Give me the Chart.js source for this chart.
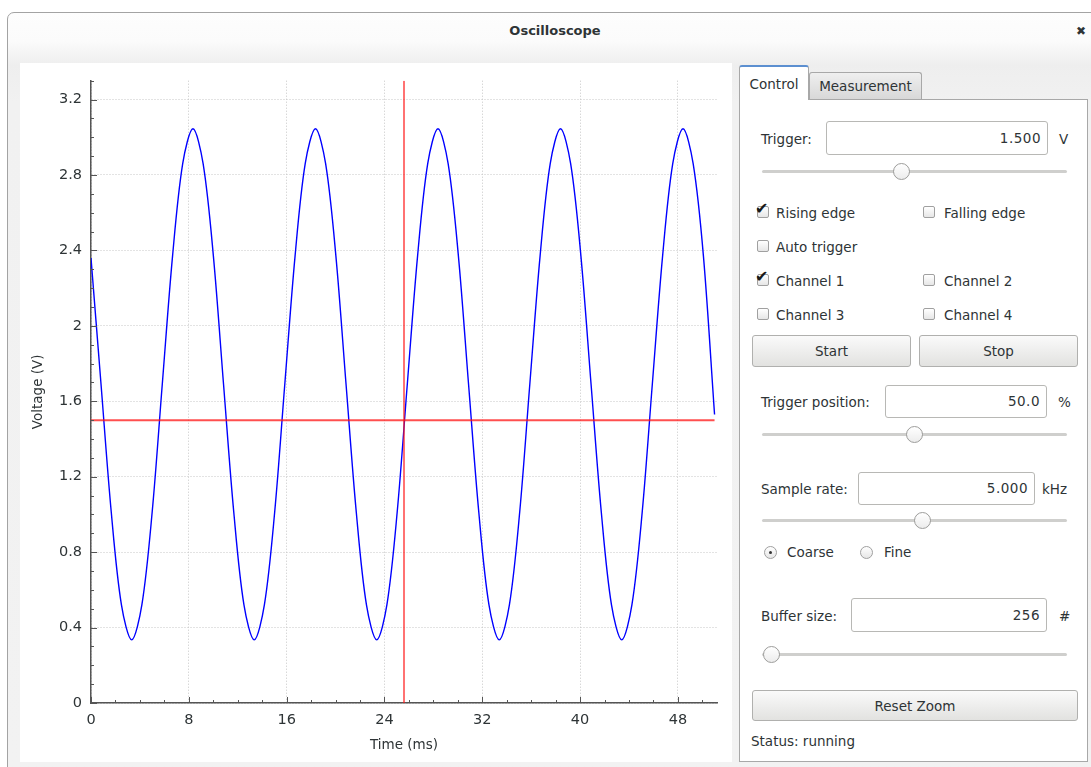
<!DOCTYPE html>
<html>
<head>
<meta charset="utf-8">
<title>Oscilloscope</title>
<script src="https://cdn.jsdelivr.net/npm/chart.js@4"></script>
<style>
  html, body { margin: 0; padding: 0; background: #fff; width: 1091px; height: 767px; overflow: hidden; }
  body { font-family: "DejaVu Sans", sans-serif; font-size: 13.5px; color: #2e3436; position: relative; }
  .win { position: absolute; left: 7px; top: 12px; width: 1100px; height: 770px; border: 1px solid #a3a3a3;
         border-radius: 7px 0 0 0; background: linear-gradient(#fdfdfd 0px, #fbfbfb 28px, #eeeeee 52px, #f1f1f1 90px, #f2f2f2 100%); }
  .ttl { position: absolute; left: 0; width: 1110px; top: 23px; text-align: center; font-weight: bold; font-size: 13px; color: #2e3436; }
  .close { position: absolute; left: 1076px; top: 24px; font-size: 12px; color: #2e3436; }
  .plot { position: absolute; left: 20px; top: 63px; width: 712px; height: 699px; background: #fff; }
  .abs { position: absolute; white-space: nowrap; }
  .tab { position: absolute; box-sizing: border-box; border: 1px solid #a8a8a8; border-bottom: none; border-radius: 3px 3px 0 0; text-align: center; }
  .panel { position: absolute; left: 739px; top: 99px; width: 349px; height: 663px; box-sizing: border-box; border: 1px solid #a8a8a8; background: #fff; }
  .entry { position: absolute; box-sizing: border-box; border: 1px solid #b8b8b5; border-radius: 3px; background: #fff; text-align: right; padding-right: 6px; letter-spacing: 0.5px; }
  .track { position: absolute; height: 3px; background: #cfcfcd; border-radius: 2px; }
  .thumb { position: absolute; width: 17px; height: 17px; box-sizing: border-box; border-radius: 50%; border: 1px solid #9d9d9b; background: linear-gradient(#ffffff, #ececec); }
  .cb { position: absolute; width: 12px; height: 12px; box-sizing: border-box; border: 1px solid #a0a0a0; border-radius: 2px; background: linear-gradient(#ffffff, #e6e6e6); }
  .tick { position: absolute; font-size: 16px; line-height: 16px; color: #1a1a1a; }
  .rb { position: absolute; width: 13px; height: 13px; box-sizing: border-box; border: 1px solid #a0a0a0; border-radius: 50%; background: linear-gradient(#ffffff, #e6e6e6); }
  .dot { position: absolute; left: 4px; top: 4px; width: 3px; height: 3px; border-radius: 50%; background: #333; }
  .btn { position: absolute; box-sizing: border-box; border: 1px solid #b0b0ae; border-radius: 3px; background: linear-gradient(#fafafa, #e2e2e0); text-align: center; }
</style>
</head>
<body>
<div class="win"></div>
<div class="ttl">Oscilloscope</div>
<div class="close">✖</div>

<div class="plot"><canvas id="scope" width="712" height="699"></canvas></div>

<div class="panel"></div>
<div class="tab" style="left:739px;top:65px;width:70px;height:35px;background:#fff;border-top:2px solid #5c8fd0;line-height:34px;">Control</div>
<div class="tab" style="left:809px;top:72px;width:113px;height:27px;background:linear-gradient(#efefef,#d8d8d8);line-height:26px;">Measurement</div>

<div class="abs" style="left:761px;top:131px;">Trigger:</div>
<div class="entry" style="left:826px;top:121px;width:222px;height:34px;line-height:32px;">1.500</div>
<div class="abs" style="left:1059px;top:131px;">V</div>
<div class="track" style="left:762px;top:170px;width:305px;"></div>
<div class="thumb" style="left:893px;top:163px;"></div>

<div class="cb" style="left:757px;top:206px;"></div><div class="tick" style="left:755px;top:201px;">✔</div>
<div class="abs" style="left:776px;top:205px;">Rising edge</div>
<div class="cb" style="left:923px;top:206px;"></div>
<div class="abs" style="left:944px;top:205px;">Falling edge</div>
<div class="cb" style="left:757px;top:240px;"></div>
<div class="abs" style="left:776px;top:239px;">Auto trigger</div>
<div class="cb" style="left:757px;top:274px;"></div><div class="tick" style="left:755px;top:269px;">✔</div>
<div class="abs" style="left:776px;top:273px;">Channel 1</div>
<div class="cb" style="left:923px;top:274px;"></div>
<div class="abs" style="left:944px;top:273px;">Channel 2</div>
<div class="cb" style="left:757px;top:308px;"></div>
<div class="abs" style="left:776px;top:307px;">Channel 3</div>
<div class="cb" style="left:923px;top:308px;"></div>
<div class="abs" style="left:944px;top:307px;">Channel 4</div>

<div class="btn" style="left:752px;top:335px;width:159px;height:32px;line-height:31px;">Start</div>
<div class="btn" style="left:919px;top:335px;width:159px;height:32px;line-height:31px;">Stop</div>

<div class="abs" style="left:761px;top:394px;">Trigger position:</div>
<div class="entry" style="left:885px;top:385px;width:162px;height:33px;line-height:31px;">50.0</div>
<div class="abs" style="left:1058px;top:394px;">%</div>
<div class="track" style="left:762px;top:433px;width:305px;"></div>
<div class="thumb" style="left:906px;top:426px;"></div>

<div class="abs" style="left:761px;top:481px;">Sample rate:</div>
<div class="entry" style="left:858px;top:472px;width:177px;height:33px;line-height:31px;">5.000</div>
<div class="abs" style="left:1042px;top:481px;">kHz</div>
<div class="track" style="left:762px;top:519px;width:305px;"></div>
<div class="thumb" style="left:914px;top:512px;"></div>

<div class="rb" style="left:764px;top:546px;"><div class="dot"></div></div>
<div class="abs" style="left:787px;top:544px;">Coarse</div>
<div class="rb" style="left:860px;top:546px;"></div>
<div class="abs" style="left:884px;top:544px;">Fine</div>

<div class="abs" style="left:761px;top:608px;">Buffer size:</div>
<div class="entry" style="left:851px;top:598px;width:196px;height:34px;line-height:32px;">256</div>
<div class="abs" style="left:1059px;top:608px;">#</div>
<div class="track" style="left:762px;top:653px;width:305px;"></div>
<div class="thumb" style="left:763px;top:646px;"></div>

<div class="btn" style="left:752px;top:690px;width:326px;height:31px;line-height:30px;">Reset Zoom</div>
<div class="abs" style="left:751px;top:733px;">Status: running</div>

<script>
// channel 1 samples (time in ms, voltage in V)
const sampleTimes = [
  0.00, 0.82, 1.66, 2.49, 3.33, 4.16, 5.00, 5.83, 6.67, 7.50, 8.34, 9.17, 10.01,
  10.84, 11.68, 12.51, 13.35, 14.18, 15.02, 15.85, 16.69, 17.52, 18.36, 19.19, 20.03,
  20.86, 21.70, 22.53, 23.37, 24.20, 25.04, 25.87, 26.71, 27.54, 28.38, 29.21, 30.05,
  30.88, 31.72, 32.55, 33.39, 34.22, 35.06, 35.89, 36.73, 37.56, 38.40, 39.23, 40.07,
  40.90, 41.74, 42.57, 43.41, 44.24, 45.08, 45.91, 46.75, 47.58, 48.42, 49.25, 50.09,
  51.00
];
const sampleVolts = [
  2.36, 1.69, 1.01, 0.52, 0.335, 0.52, 1.01, 1.69, 2.37, 2.86, 3.045, 2.86, 2.37,
  1.69, 1.01, 0.52, 0.335, 0.52, 1.01, 1.69, 2.37, 2.86, 3.045, 2.86, 2.37,
  1.69, 1.01, 0.52, 0.335, 0.52, 1.01, 1.69, 2.37, 2.86, 3.045, 2.86, 2.37,
  1.69, 1.01, 0.52, 0.335, 0.52, 1.01, 1.69, 2.37, 2.86, 3.045, 2.86, 2.37,
  1.69, 1.01, 0.52, 0.335, 0.52, 1.01, 1.69, 2.37, 2.86, 3.045, 2.86, 2.37,
  1.53
];

// trigger markers
const triggerLevel = [{ x: 0, y: 1.5 }, { x: 51.0, y: 1.5 }];
const triggerTime = [{ x: 25.6, y: 0 }, { x: 25.6, y: 3.3 }];

// axes
const timeRange = [0, 51.2];
const voltRange = [0, 3.3];
const timeMajor = 8, timeMinor = 2;
const voltMajor = 0.4, voltMinor = 0.1;

const signal = sampleTimes.map((t, i) => ({ x: t, y: sampleVolts[i] }));

// GTK-plot style: ticks pointing into the plot area
const inwardTicks = {
  id: 'inwardTicks',
  afterDatasetsDraw(chart) {
    const { ctx, chartArea, scales: { x, y } } = chart;
    ctx.save();
    ctx.strokeStyle = '#555';
    ctx.lineWidth = 1;
    ctx.beginPath();
    for (let i = 0; i * timeMinor <= timeRange[1]; i++) {
      const px = Math.round(x.getPixelForValue(i * timeMinor)) + 0.5;
      const len = i % (timeMajor / timeMinor) === 0 ? 6 : 3;
      ctx.moveTo(px, chartArea.bottom);
      ctx.lineTo(px, chartArea.bottom - len);
    }
    for (let i = 0; i * voltMinor <= voltRange[1] + 1e-9; i++) {
      const py = Math.round(y.getPixelForValue(i * voltMinor)) + 0.5;
      const len = i % Math.round(voltMajor / voltMinor) === 0 ? 6 : 3;
      ctx.moveTo(chartArea.left, py);
      ctx.lineTo(chartArea.left + len, py);
    }
    ctx.stroke();
    ctx.restore();
  }
};

Chart.defaults.font.family = '"DejaVu Sans", sans-serif';
Chart.defaults.color = '#2e3436';

new Chart(document.getElementById('scope'), {
  type: 'line',
  data: {
    datasets: [
      { data: triggerLevel, borderColor: 'rgba(255,20,20,0.75)', borderWidth: 2, pointRadius: 0, tension: 0 },
      { data: triggerTime, borderColor: 'rgba(255,20,20,0.8)', borderWidth: 1.5, pointRadius: 0, tension: 0 },
      { data: signal, borderColor: '#0000ff', borderWidth: 1.4, pointRadius: 0, tension: 0.33 }
    ]
  },
  options: {
    responsive: false,
    animation: false,
    devicePixelRatio: 1,
    layout: { padding: { top: 17, right: 15, left: 0, bottom: 0 } },
    plugins: { legend: { display: false }, tooltip: { enabled: false } },
    scales: {
      x: {
        type: 'linear',
        min: timeRange[0],
        max: timeRange[1],
        afterFit(scale) { scale.height = 59; },
        ticks: { stepSize: timeMajor, includeBounds: false, padding: 9, maxRotation: 0, font: { size: 14.5 } },
        grid: { color: '#c6c6c6', lineWidth: 1, drawTicks: false },
        border: { color: '#555', width: 1.5, dash: [1, 2] },
        title: { display: true, text: 'Time (ms)', font: { size: 13.5 }, padding: { top: 0, bottom: 8 } }
      },
      y: {
        type: 'linear',
        min: voltRange[0],
        max: voltRange[1],
        afterFit(scale) { scale.width = 71; },
        ticks: { stepSize: voltMajor, includeBounds: false, padding: 9, font: { size: 14.5 },
                 callback: v => String(Math.round(v * 10) / 10) },
        grid: { color: '#c6c6c6', lineWidth: 1, drawTicks: false },
        border: { color: '#555', width: 1.5, dash: [1, 2] },
        title: { display: true, text: 'Voltage (V)', font: { size: 13.5 }, padding: { top: 10, bottom: 0 } }
      }
    }
  },
  plugins: [inwardTicks]
});
</script>
</body>
</html>
